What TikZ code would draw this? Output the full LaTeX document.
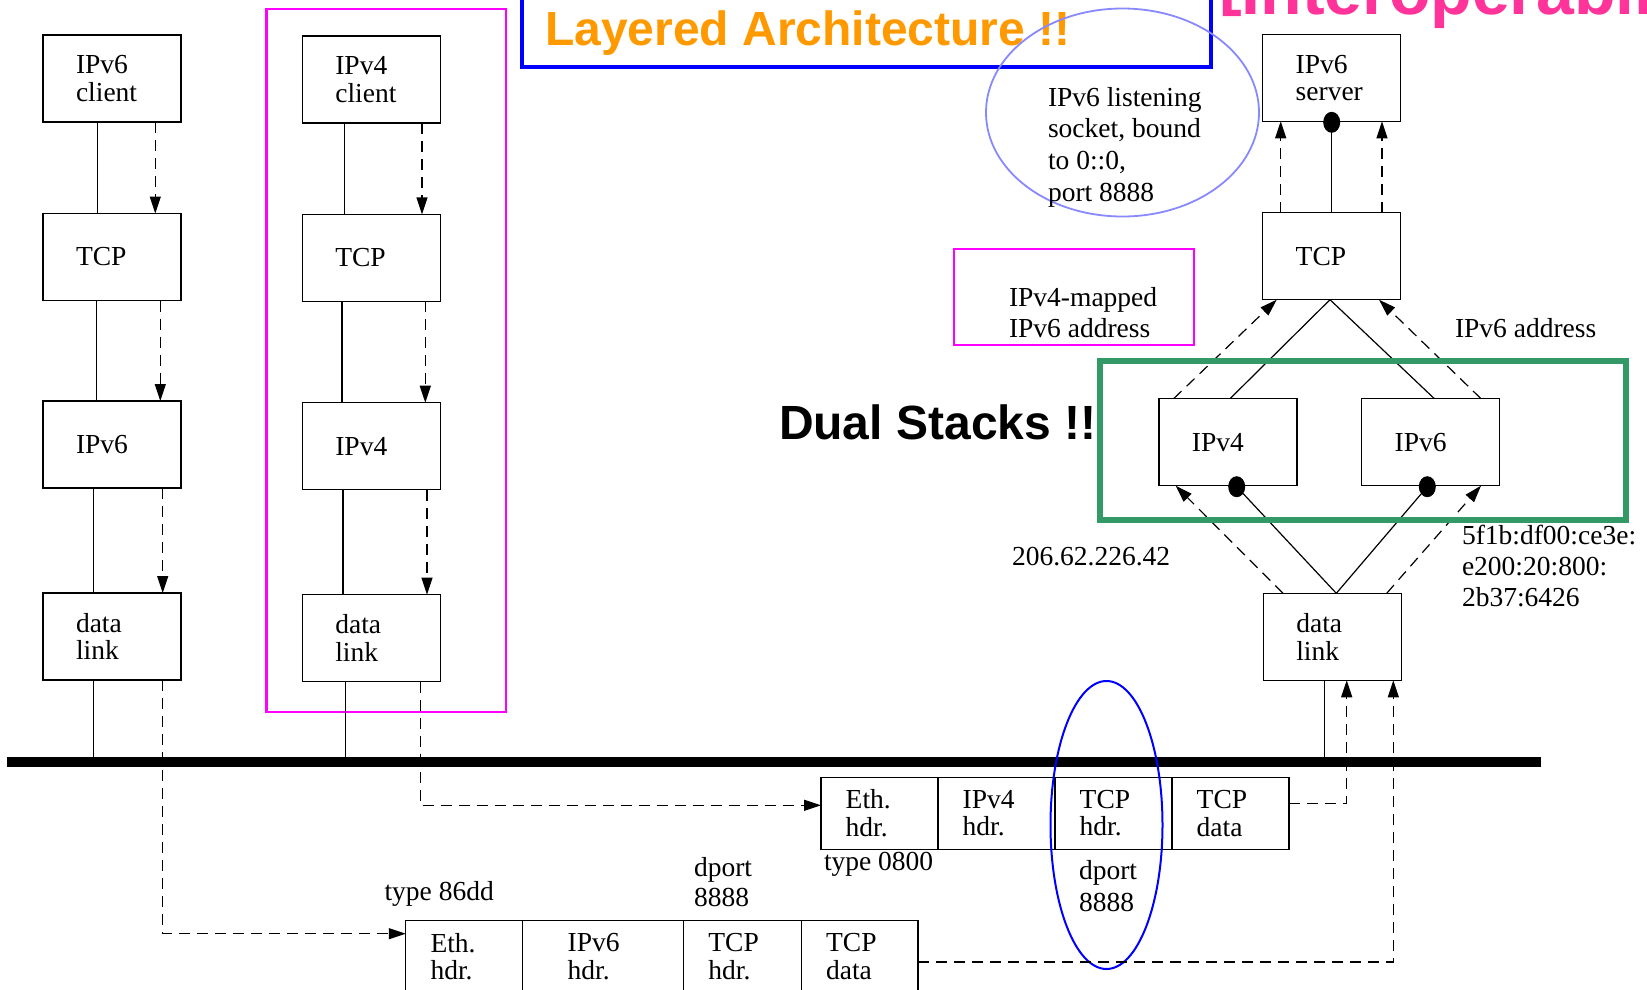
\documentclass[tikz,border=0pt]{standalone}
\usepackage{fontspec}
\setmainfont{Liberation Serif}
\newfontfamily\hsans{Liberation Sans}
\usetikzlibrary{arrows.meta,shapes.geometric}
\definecolor{titleorange}{RGB}{255,153,0}
\definecolor{hotpink}{RGB}{255,51,153}
\definecolor{boxmagenta}{RGB}{255,0,255}
\definecolor{stackgreen}{RGB}{51,153,102}
\definecolor{ringblue}{RGB}{136,136,255}

\begin{document}
\begin{tikzpicture}[x=1pt,y=-1pt,
  every node/.style={font=\fontsize{27.5pt}{27.5pt}\selectfont, inner sep=0pt, outer sep=0pt},
  layer/.style={draw, line width=1.3pt, anchor=north west, minimum width=138pt,
    minimum height=87pt, text width=72pt, inner xsep=33pt, align=left},
  cell/.style={draw, line width=1.3pt, anchor=north west, minimum height=72pt,
    inner xsep=24.7pt, text width=#1, align=left},
  % multi-line labels are anchored at the baseline of their last line
  lbl/.style={anchor=base west, align=left},
  dot/.style={fill, ellipse, minimum width=17pt, minimum height=21pt},
  wire/.style={line width=1.2pt},
  flow/.style={line width=1.2pt, dash pattern=on 11pt off 7pt,
    -{Triangle[length=17pt,width=11pt]}},
  headline/.style={anchor=base west, font=\hsans\bfseries\fontsize{48pt}{48pt}\selectfont}
]
\useasboundingbox (0,0) rectangle (1647,989);
\clip (0,0) rectangle (1647,989);

% ---------- headings ----------
\draw[blue, line width=4pt] (522,-10) rectangle (1210.5,67);
\node[headline, text=titleorange] (title) at (545,45) {Layered Architecture !!};
\node[headline, text=hotpink, font=\hsans\bfseries\fontsize{68pt}{68pt}\selectfont]
  (interop) at (1219,14) {\raisebox{0.17em}{[}Interoperability]};
\node[headline] (dual) at (779,439) {Dual Stacks !!};

% ---------- Ethernet bus ----------
\coordinate (busL) at (7,762);
\coordinate (busR) at (1541,762);
\draw[line width=10pt] (busL) -- (busR);

% ---------- IPv6 client stack ----------
\node[layer] (c6) at (43,35)    {IPv6\\client};
\node[layer] (t6) at (43,213.5) {TCP};
\node[layer] (n6) at (43,401)   {IPv6};
\node[layer] (d6) at (43,593)   {data\\link};

\draw[wire] ([xshift=54.7pt]c6.south west) -- ([xshift=54.7pt]t6.north west);
\draw[wire] ([xshift=53.3pt]t6.south west) -- ([xshift=53.3pt]n6.north west);
\draw[wire] ([xshift=50.7pt]n6.south west) -- ([xshift=50.7pt]d6.north west);
\coordinate (d6s) at ([xshift=50.7pt]d6.south west);
\draw[wire] (d6s) -- (d6s |- busL);

\draw[flow] ([xshift=112.3pt]c6.south west) -- ([xshift=112.3pt]t6.north west);
\draw[flow] ([xshift=117.3pt]t6.south west) -- ([xshift=117.3pt]n6.north west);
\draw[flow] ([xshift=119.7pt]n6.south west) -- ([xshift=119.7pt]d6.north west);

% ---------- IPv4 client stack ----------
\draw[boxmagenta, line width=2.5pt] (266.5,9) rectangle (506,712);
\node[layer] (c4) at (302.3,36)    {IPv4\\client};
\node[layer] (t4) at (302.3,214.4) {TCP};
\node[layer] (n4) at (302.3,402.7) {IPv4};
\node[layer] (d4) at (302.3,594.6) {data\\link};

\draw[wire] ([xshift=42pt]c4.south west) -- ([xshift=42pt]t4.north west);
\draw[wire] ([xshift=39.7pt]t4.south west) -- ([xshift=39.7pt]n4.north west);
\draw[wire] ([xshift=40.7pt]n4.south west) -- ([xshift=40.7pt]d4.north west);
\coordinate (d4s) at ([xshift=43.4pt]d4.south west);
\draw[wire] (d4s) -- (d4s |- busL);

\draw[flow] ([xshift=119.7pt]c4.south west) -- ([xshift=119.7pt]t4.north west);
\draw[flow] ([xshift=123pt]t4.south west) -- ([xshift=123pt]n4.north west);
\draw[flow] ([xshift=124.7pt]n4.south west) -- ([xshift=124.7pt]d4.north west);

% ---------- frames on the wire ----------
\node[cell=67.6pt] (p4eth)  at (821,777.3)      {Eth.\\hdr.};
\node[cell=67.6pt] (p4ip)   at (p4eth.north east) {IPv4\\hdr.};
\node[cell=67.6pt] (p4tcp)  at (p4ip.north east)  {TCP\\hdr.};
\node[cell=67.6pt] (p4data) at (p4tcp.north east) {TCP\\data};

\node[cell=67.2pt] (p6eth)  at (405.8,920.7)     {Eth.\\hdr.};
\node[cell=70.7pt, inner xsep=45.3pt] (p6ip) at (p6eth.north east) {IPv6\\hdr.};
\node[cell=68.3pt] (p6tcp)  at (p6ip.north east)  {TCP\\hdr.};
\node[cell=67.1pt] (p6data) at (p6tcp.north east) {TCP\\data};

\node[lbl] (t0800) at (824,870) {type 0800};
\node[lbl] (t86dd) at (384.6,900) {type 86dd};
\node[lbl, font=\fontsize{27.5pt}{30.7pt}\selectfont] (dportA) at (694,906.7) {dport\\8888};
\node[lbl, font=\fontsize{27.5pt}{32pt}\selectfont] (dportB) at (1079,911.7) {dport\\8888};
\draw[blue, line width=2pt] (1106.5,825) ellipse [x radius=56, y radius=144];

\draw[flow] ([xshift=119.7pt]d6.south west) |- ([yshift=-13pt]p6eth.north west);
\draw[flow] ([xshift=118pt]d4.south west) |- ([yshift=-28pt]p4eth.north west);

% ---------- dual-stack IPv6 server ----------
\node[layer] (srv)  at (1262.7,34.3)  {IPv6\\server};
\node[layer] (tcpR) at (1262.7,212.7) {TCP};
\node[layer] (ip4R) at (1158.9,398.7) {IPv4};
\node[layer] (ip6R) at (1361.6,398.7) {IPv6};
\node[layer] (dlR)  at (1263.3,593.3) {data\\link};

\node[dot] (sdot) at ([yshift=-1pt]srv.south) {};
\draw[wire] (tcpR.north) -- (sdot);
\draw[flow] ([xshift=18pt]tcpR.north west) -- ([xshift=18pt]srv.south west);
\draw[flow] ([xshift=119.3pt]tcpR.north west) -- ([xshift=119.3pt]srv.south west);

\draw[wire] ([xshift=67.3pt]tcpR.south west) -- ([xshift=71.1pt]ip4R.north west);
\draw[wire] ([xshift=67.3pt]tcpR.south west) -- ([xshift=72.8pt]ip6R.north west);
\draw[flow] ([xshift=14.7pt]ip4R.north west) -- ([xshift=14pt]tcpR.south west);
\draw[flow] ([xshift=119.4pt]ip6R.north west) -- ([xshift=116.3pt]tcpR.south west);

\node[dot] (v4dot) at ([xshift=77.8pt, yshift=-1pt]ip4R.south west) {};
\node[dot] (v6dot) at ([xshift=65.7pt, yshift=-1pt]ip6R.south west) {};
\draw[wire] ([xshift=73pt]dlR.north west) -- (v4dot);
\draw[wire] ([xshift=73pt]dlR.north west) -- (v6dot);
\draw[flow] ([xshift=19.7pt]dlR.north west) -- ([xshift=16.7pt]ip4R.south west);
\draw[flow] ([xshift=123.4pt]dlR.north west) -- ([xshift=119.4pt]ip6R.south west);

\coordinate (dlRs) at ([xshift=61pt]dlR.south west);
\draw[wire] (dlRs) -- (dlRs |- busL);
\draw[flow] ([yshift=10pt]p4data.east) -| ([xshift=83.4pt]dlR.south west);
\draw[flow] ([yshift=-41.3pt]p6data.north east) -| ([xshift=130pt]dlR.south west);

\draw[stackgreen, line width=6pt] (1100,361) rectangle (1626,520);

% ---------- annotations ----------
\draw[ringblue, line width=1.8pt] (1122.5,112.5) ellipse [x radius=136.5, y radius=104];
\node[lbl, font=\fontsize{27.5pt}{31.6pt}\selectfont] (sock) at (1048,201)
  {IPv6 listening\\socket, bound\\to 0::0,\\port 8888};

\node[draw=boxmagenta, line width=2pt, anchor=north west, minimum width=240pt,
  minimum height=96pt] (mapbox) at (954.4,249) {};
\node[lbl, font=\fontsize{27.5pt}{30.5pt}\selectfont] (mapped) at (1009,337) {IPv4-mapped\\IPv6 address};
\node[lbl] (v6addr) at (1455,337) {IPv6 address};
\node[lbl] (v4num) at (1012,565) {206.62.226.42};
\node[lbl, font=\fontsize{27.5pt}{31.3pt}\selectfont] (v6num) at (1462,606.7)
  {5f1b:df00:ce3e:\\e200:20:800:\\2b37:6426};
\end{tikzpicture}
\end{document}
